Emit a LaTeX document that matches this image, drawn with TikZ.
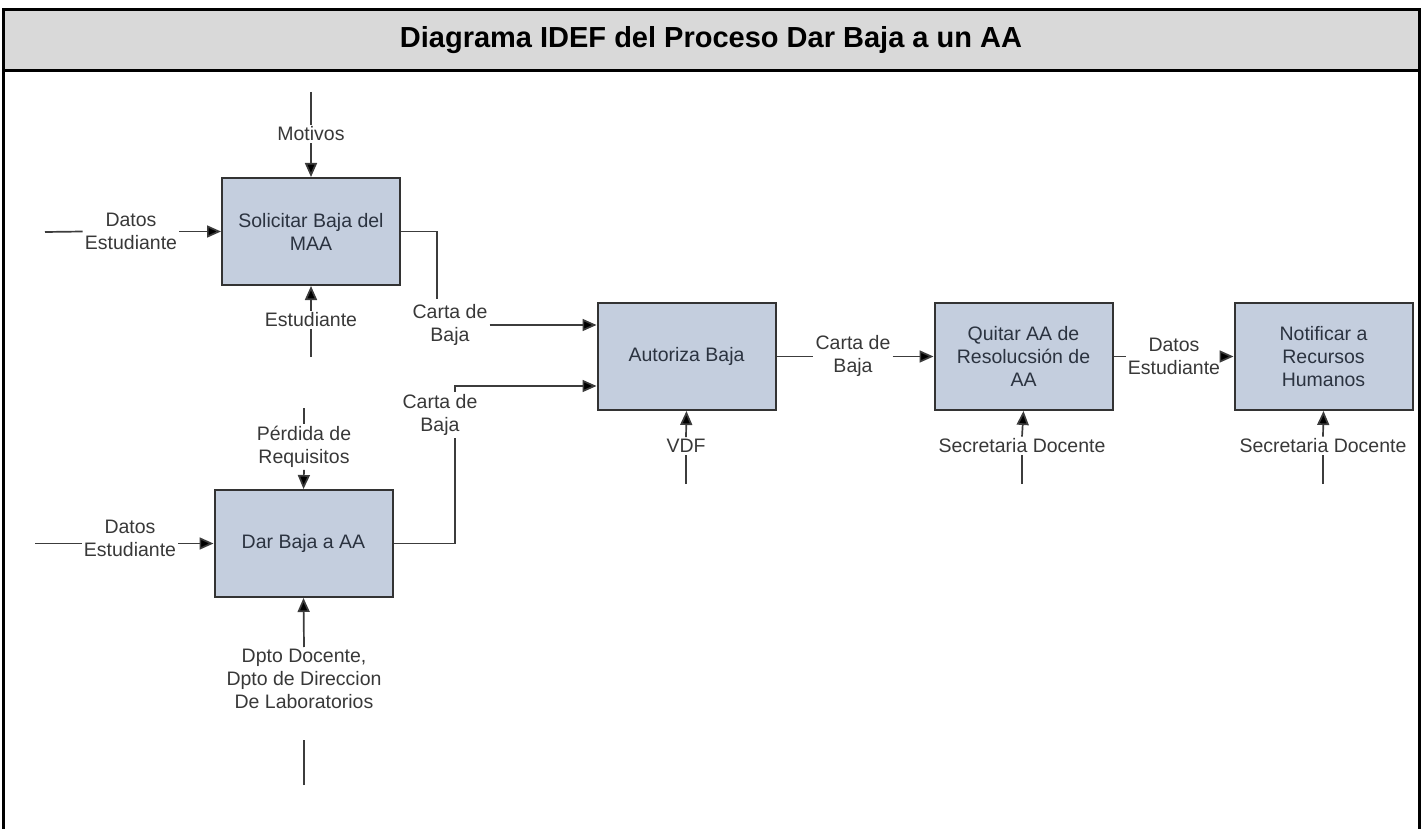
\documentclass[tikz,border=0pt]{standalone}
\usepackage{fontspec}
\setmainfont{Liberation Sans}
\usetikzlibrary{arrows.meta}
\definecolor{hdr}{HTML}{D9D9D9}
\definecolor{boxfill}{HTML}{C4CEDE}
\definecolor{boxline}{HTML}{333333}
\definecolor{lnc}{HTML}{3C3C3C}
\definecolor{txt}{HTML}{383838}
\definecolor{boxtxt}{HTML}{2B3340}
\begin{document}
\begin{tikzpicture}[x=1pt,y=-1pt,
  procbox/.style={draw=boxline, line width=2pt, fill=boxfill, minimum width=178pt, minimum height=107pt, align=center, text=boxtxt, font=\fontsize{19.5}{23}\selectfont, inner sep=2pt},
  lbl/.style={align=center, text=txt, font=\fontsize{19.5}{23}\selectfont, inner sep=2pt},
  conn/.style={draw=lnc, line width=1.7pt},
  arr/.style={conn, -{Triangle[length=14pt,width=12pt,fill=black]}},
  frame/.style={line width=3pt, draw=black}
]
\useasboundingbox (0,0) rectangle (1422,829);
% frame and header
\fill[hdr] (3,10) rectangle (1419,71);
\draw[frame] (3,829) -- (3,10) -- (1419,10) -- (1419,829);
\draw[frame] (3,71) -- (1419,71);
\node[font=\bfseries\fontsize{29}{33}\selectfont] (title) at (711,40) {Diagrama IDEF del Proceso Dar Baja a un AA};

% process boxes
\node[procbox] (s1) at (311,231.5) {Solicitar Baja del\\MAA};
\node[procbox] (d) at (303.5,543.5) {Dar Baja a AA};
\node[procbox] (a) at (686.5,356.5) {Autoriza Baja};
\node[procbox] (q) at (1023.5,356.5) {Quitar AA de\\Resolucsión de\\AA};
\node[procbox] (n) at (1323.5,356.5) {Notificar a\\Recursos\\Humanos};

% labels
\node[lbl] (lmot) at (311,134) {Motivos};
\node[lbl] (lde1) at (131,231) {Datos\\Estudiante};
\node[lbl] (lest) at (311,320) {Estudiante};
\node[lbl] (lcb1) at (450,325) {Carta de\\Baja};
\node[lbl] (lcb2) at (440,415) {Carta de\\Baja};
\node[lbl] (lper) at (304,447) {Pérdida de\\Requisitos};
\node[lbl] (lde2) at (130,538) {Datos\\Estudiante};
\node[lbl] (ldpto) at (304,679) {Dpto Docente,\\Dpto de Direccion\\De Laboratorios};
\node[lbl] (lvdf) at (686,446) {VDF};
\node[lbl] (lcb3) at (853,356) {Carta de\\Baja};
\node[lbl] (lde3) at (1174,356) {Datos\\Estudiante};
\node[lbl] (lsd1) at (1022,446) {Secretaria Docente};
\node[lbl] (lsd2) at (1323,446) {Secretaria Docente};

% free ends
\coordinate (cmot) at (311,92);
\coordinate (cde1) at (45,232);
\coordinate (cest) at (311,357);
\coordinate (cper) at (304,408);
\coordinate (cde2) at (35,543.5);
\coordinate (cdp1) at (304,740);
\coordinate (cdp2) at (304,785);
\coordinate (cvdf) at (686,484);
\coordinate (csd1) at (1022,484);
\coordinate (csd2) at (1323,484);
\coordinate (cb1) at (437,299);
\coordinate (cb2) at (455,386);

% connectors
\draw[conn] (cmot) -- (lmot.north);
\draw[arr] (lmot.south) -- (s1.north);
\draw[conn] (cde1) -- (lde1.west |- s1.west);
\draw[arr] (lde1.east |- s1.west) -- (s1.west);
\draw[conn] (cest) -- (lest.south);
\draw[arr] (lest.north) -- (s1.south);
\draw[conn] (s1.east) -| (cb1);
\draw[arr] (lcb1.east) -- (lcb1.east -| a.west);
\draw[conn] (d.east) -| (lcb2.south -| cb2);
\draw[arr] (lcb2.north -| cb2) -- (cb2) -- (cb2 -| a.west);
\draw[conn] (cper) -- (lper.north);
\draw[arr] (lper.south) -- (d.north);
\draw[conn] (cde2) -- (lde2.west |- d.west);
\draw[arr] (lde2.east |- d.west) -- (d.west);
\draw[arr] (ldpto.north) -- (d.south);
\draw[conn] (cdp2) -- (cdp1);
\draw[conn] (cvdf) -- (lvdf.south);
\draw[arr] (lvdf.north) -- (a.south);
\draw[conn] (a.east) -- (lcb3.west |- a.east);
\draw[arr] (lcb3.east |- a.east) -- (q.west);
\draw[conn] (q.east) -- (lde3.west |- q.east);
\draw[arr] (lde3.east |- q.east) -- (n.west);
\draw[conn] (csd1) -- (lsd1.south);
\draw[arr] (lsd1.north) -- (q.south);
\draw[conn] (csd2) -- (lsd2.south);
\draw[arr] (lsd2.north) -- (n.south);
\end{tikzpicture}
\end{document}
